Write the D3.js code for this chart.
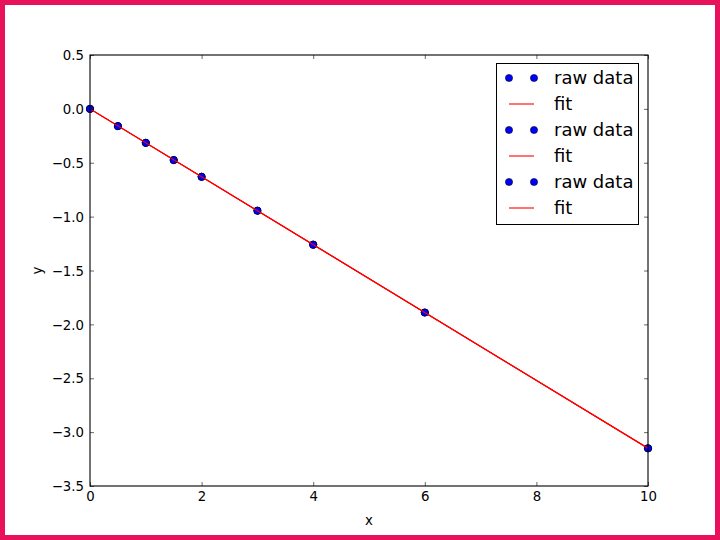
<!DOCTYPE html>
<html><head><meta charset="utf-8">
<script src="https://cdn.jsdelivr.net/npm/d3@7/dist/d3.min.js"></script>
<style>
html,body{margin:0;padding:0;background:#fff;}
svg{display:block;font-family:"DejaVu Sans",sans-serif;}
</style></head>
<body>
<svg id="chart" width="720" height="540"></svg>
<script>
const xData = [0, 0.5, 1, 1.5, 2, 3, 4, 6, 10];
const series1 = [0, -0.16, -0.315, -0.475, -0.63, -0.945, -1.26, -1.89, -3.15];
const series2 = [0, -0.16, -0.315, -0.475, -0.63, -0.945, -1.26, -1.89, -3.15];
const series3 = [0, -0.16, -0.315, -0.475, -0.63, -0.945, -1.26, -1.89, -3.15];
const fitSlope = [-0.315, -0.315, -0.315];
const fitIntercept = [0, 0, 0];
const xTicks = [0, 2, 4, 6, 8, 10];
const yTicks = [0.5, 0.0, -0.5, -1.0, -1.5, -2.0, -2.5, -3.0, -3.5];
const legendLabels = ["raw data", "fit", "raw data", "fit", "raw data", "fit"];

const svg = d3.select("#chart");
// frame
svg.append("rect").attr("x", 2.5).attr("y", 2.5).attr("width", 715).attr("height", 535)
  .attr("fill", "none").attr("stroke", "#e8115b").attr("stroke-width", 5);

const L = 90, R = 648, T = 55, B = 486;
const x = d3.scaleLinear().domain([0, 10]).range([L, R]);
const y = d3.scaleLinear().domain([-3.5, 0.5]).range([B, T]);

const g = svg.append("g");

const plot = g.append("g");
const allSeries = [series1, series2, series3];
allSeries.forEach((s, i) => {
  plot.append("g").selectAll("circle").data(xData.map((d, j) => [d, s[j]])).join("circle")
    .attr("cx", d => x(d[0])).attr("cy", d => y(d[1])).attr("r", 3.6)
    .attr("fill", "#0000ff").attr("stroke", "#000").attr("stroke-width", 0.55);
  const xs = d3.extent(xData);
  const line = d3.line().x(d => x(d)).y(d => y(fitIntercept[i] + fitSlope[i] * d));
  plot.append("path").attr("d", line(xs)).attr("fill", "none")
    .attr("stroke", "#ff0000").attr("stroke-width", 1.1);
});

// axes frame
g.append("rect").attr("x", L).attr("y", T).attr("width", R - L).attr("height", B - T)
  .attr("fill", "none").attr("stroke", "#000").attr("stroke-width", 1.1);

const tickFont = 13.3;
const xb = d3.axisBottom(x).tickValues(xTicks).tickSizeInner(-4).tickSizeOuter(0).tickPadding(6).tickFormat(d3.format("d"));
const xt = d3.axisTop(x).tickValues(xTicks).tickSizeInner(-4).tickSizeOuter(0).tickFormat("");
const yl = d3.axisLeft(y).tickValues(yTicks).tickSizeInner(-4).tickSizeOuter(0).tickPadding(6).tickFormat(d3.format(".1f"));
const yr = d3.axisRight(y).tickValues(yTicks).tickSizeInner(-4).tickSizeOuter(0).tickFormat("");
function style(sel) {
  sel.select(".domain").remove();
  sel.selectAll("line").attr("stroke", "#000").attr("stroke-width", 0.6);
  sel.selectAll("text").attr("fill", "#000").attr("font-size", tickFont).attr("font-family", "DejaVu Sans");
}
g.append("g").attr("transform", `translate(0,${B})`).call(xb).call(style)
  .selectAll("text").attr("dy", "0.71em");
g.append("g").attr("transform", `translate(0,${T})`).call(xt).call(style);
g.append("g").attr("transform", `translate(${L},0)`).call(yl).call(style)
  .selectAll("text").text(d => (d < 0 ? "\u2212" : "") + Math.abs(d).toFixed(1)).attr("dy", "0.35em");
g.append("g").attr("transform", `translate(${R},0)`).call(yr).call(style);

g.append("text").attr("x", (L + R) / 2).attr("y", 525).attr("text-anchor", "middle")
  .attr("font-size", 13.3).text("x");
g.append("text").attr("transform", `translate(41.5,${(T + B) / 2}) rotate(-90)`).attr("text-anchor", "middle")
  .attr("font-size", 13.3).text("y");

// legend
const lg = g.append("g");
lg.append("rect").attr("x", 496.5).attr("y", 63.5).attr("width", 142).attr("height", 161)
  .attr("fill", "#fff").attr("stroke", "#000").attr("stroke-width", 1);
legendLabels.forEach((lab, i) => {
  const cy = 78 + i * 26;
  if (lab === "fit") {
    lg.append("line").attr("x1", 509).attr("x2", 534).attr("y1", cy).attr("y2", cy)
      .attr("stroke", "#ff0000").attr("stroke-width", 1.1);
  } else {
    [509, 534].forEach(cx => lg.append("circle").attr("cx", cx).attr("cy", cy).attr("r", 3.6)
      .attr("fill", "#0000ff").attr("stroke", "#000").attr("stroke-width", 0.55));
  }
  lg.append("text").attr("x", 554).attr("y", cy).attr("dy", "0.35em")
    .attr("font-size", 18).text(lab);
});
</script>
</body></html>
